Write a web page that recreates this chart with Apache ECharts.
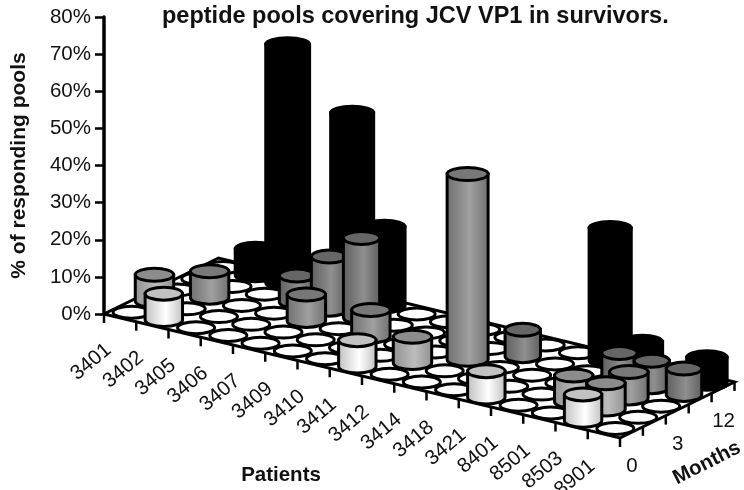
<!DOCTYPE html>
<html>
<head>
<meta charset="utf-8">
<title>Responding pools</title>
<style>
  html, body { margin: 0; padding: 0; background: #fff; }
  #chart { width: 744px; height: 490px; }
</style>
<script src="https://cdn.jsdelivr.net/npm/echarts@6/dist/echarts.min.js"></script>
</head>
<body>
<div id="chart"></div>
<script>
const patients = ["3401", "3402", "3405", "3406", "3407", "3409", "3410", "3411",
  "3412", "3414", "3418", "3421", "8401", "8501", "8503", "8901"];
const monthLabels = ["0", "", "3", "", "12"];
const yTicks = [0, 10, 20, 30, 40, 50, 60, 70, 80];

// % of responding pools per patient, one list per month row (front to back)
const row0 = [0, 7.1, 0, 0, 0, 0, 0, 7.1, 0, 0, 0, 7.1, 0, 0, 7.1, 0];
const row1 = [7.1, 0, 0, 0, 0, 0, 0, 0, 7.1, 0, 0, 0, 0, 7.1, 7.1, 0];
const row2 = [0, 7.1, 0, 0, 7.1, 0, 7.1, 0, 0, 50, 0, 0, 0, 0, 7.1, 0];
const row3 = [0, 0, 0, 7.1, 14.3, 21.4, 0, 0, 0, 0, 7.1, 0, 0, 7.1, 7.1, 7.1];
const row4 = [0, 7.1, 64.3, 0, 50, 21.4, 0, 0, 0, 0, 0, 0, 35.7, 7.1, 0, 7.1];
const rows = [row0, row1, row2, row3, row4];

// oblique projection of the floor, in pixels
const patientDrop = 7.75;
const rowDx = 22.9;
const rowDy = -11.2;

const font = '"Liberation Sans", Arial, sans-serif';
const ink = "#111";
const rowStyles = [
  { rx: 18.5, top: "#c2c2c2", edge: "#bdbdbd", mid: "#ffffff" },
  { rx: 19, top: "#8c8c8c", edge: "#8f8f8f", mid: "#bdbdbd" },
  { rx: 19, top: "#787878", edge: "#6e6e6e", mid: "#a0a0a0" },
  { rx: 17.5, top: "#666666", edge: "#5c5c5c", mid: "#8f8f8f" },
  { rx: 20, top: "#000000", edge: "#000000", mid: "#000000" }
];

// screen position of floor point (u along patients, v along months) raised to value
function project(api, u, v, value) {
  const p = api.coord([u, value]);
  return [p[0] + v * rowDx, p[1] + u * patientDrop + v * rowDy];
}

function renderBar(row) {
  const st = rowStyles[row];
  return function (params, api) {
    const u = api.value(0) + 0.5;
    const v = row + 0.5;
    const value = api.value(1);
    const base = project(api, u, v, 0);
    if (!value) {
      return {
        type: "ellipse",
        shape: { cx: base[0], cy: base[1], rx: 18.5, ry: 6 },
        style: { fill: "#fff", stroke: "#000", lineWidth: 3 }
      };
    }
    const top = project(api, u, v, value);
    const rx = st.rx + value * 0.03;
    const ry = 6.5;
    const x0 = base[0] - rx;
    const x1 = base[0] + rx;
    return {
      type: "group",
      children: [
        {
          type: "path",
          shape: {
            pathData: "M" + x0 + " " + top[1] + "L" + x0 + " " + base[1] +
              "A" + rx + " " + ry + " 0 0 0 " + x1 + " " + base[1] +
              "L" + x1 + " " + top[1] + "Z",
            layout: "none"
          },
          style: {
            fill: new echarts.graphic.LinearGradient(0, 0, 1, 0, [
              { offset: 0, color: st.edge },
              { offset: 0.55, color: st.mid },
              { offset: 1, color: st.edge }
            ]),
            stroke: "#000",
            lineWidth: 3
          }
        },
        {
          type: "ellipse",
          shape: { cx: top[0], cy: top[1], rx: rx, ry: ry },
          style: { fill: st.top, stroke: "#000", lineWidth: 3 }
        }
      ]
    };
  };
}

function renderFloor(params, api) {
  const n = patients.length;
  const m = rows.length;
  return {
    type: "polygon",
    shape: {
      points: [
        project(api, 0, 0, 0),
        project(api, n, 0, 0),
        project(api, n, m, 0),
        project(api, 0, m, 0)
      ]
    },
    style: { fill: "#fff", stroke: "#000", lineWidth: 3 }
  };
}

function renderPatientAxis(params, api) {
  const i = api.value(0);
  const tick = project(api, i, 0, 0);
  const mid = project(api, i + 0.5, 0, 0);
  return {
    type: "group",
    children: [
      {
        type: "line",
        shape: { x1: tick[0], y1: tick[1], x2: tick[0], y2: tick[1] + 9 },
        style: { stroke: "#000", lineWidth: 2.5 }
      },
      {
        type: "text",
        x: mid[0] - 29,
        y: mid[1] + 44,
        rotation: 40 * Math.PI / 180,
        style: {
          text: patients[i],
          font: "20.5px " + font,
          fill: ink,
          align: "center",
          verticalAlign: "middle"
        }
      }
    ]
  };
}

function renderMonthAxis(params, api) {
  const j = api.value(0);
  const tick = project(api, patients.length, j, 0);
  const mid = project(api, patients.length, j + 0.5, 0);
  const children = [{
    type: "line",
    shape: { x1: tick[0], y1: tick[1], x2: tick[0], y2: tick[1] + 9 },
    style: { stroke: "#000", lineWidth: 2.5 }
  }];
  if (monthLabels[j]) {
    children.push({
      type: "text",
      x: mid[0] + 0.5,
      y: mid[1] + 34,
      style: {
        text: monthLabels[j],
        font: "20.5px " + font,
        fill: ink,
        align: "center",
        verticalAlign: "middle"
      }
    });
  }
  return { type: "group", children: children };
}

const chart = echarts.init(document.getElementById("chart"), null, { renderer: "canvas" });

const barSeries = [];
for (let j = rows.length - 1; j >= 0; j--) {
  barSeries.push({
    name: "row" + j,
    type: "custom",
    coordinateSystem: "cartesian2d",
    clip: false,
    silent: true,
    renderItem: renderBar(j),
    encode: { x: 0, y: 1 },
    data: rows[j].map(function (v, i) { return [i, v]; })
  });
}

chart.setOption({
  animation: false,
  backgroundColor: "#fff",
  title: {
    text: "peptide pools covering JCV VP1 in survivors.",
    left: 157,
    top: 0,
    textStyle: { fontFamily: font, fontSize: 23.5, fontWeight: "bold", color: ink }
  },
  grid: { left: 104, right: 124, top: 17, bottom: 176, containLabel: false, outerBoundsMode: "none" },
  xAxis: { type: "value", min: 0, max: patients.length, show: false },
  yAxis: {
    type: "value",
    min: yTicks[0],
    max: yTicks[yTicks.length - 1],
    interval: 10,
    name: "% of responding pools",
    nameLocation: "middle",
    nameRotate: 90,
    nameGap: 74,
    nameTextStyle: { fontFamily: font, fontSize: 21, fontWeight: "bold", color: ink },
    axisLine: { show: true, lineStyle: { color: "#000", width: 3.5 } },
    axisTick: { show: true, length: 9, lineStyle: { color: "#000", width: 2.5 } },
    axisLabel: { formatter: "{value}%", fontFamily: font, fontSize: 20.5, color: ink, margin: 13 },
    splitLine: { show: false }
  },
  graphic: [
    {
      type: "text",
      x: 281,
      y: 475,
      style: { text: "Patients", font: "bold 20.5px " + font, fill: ink, align: "center", verticalAlign: "middle" }
    },
    {
      type: "text",
      x: 707,
      y: 463,
      rotation: 27 * Math.PI / 180,
      style: { text: "Months", font: "bold 20.5px " + font, fill: ink, align: "center", verticalAlign: "middle" }
    }
  ],
  series: [
    {
      type: "custom",
      coordinateSystem: "cartesian2d",
      clip: false,
      silent: true,
      renderItem: renderFloor,
      data: [[0, 0]]
    },
    {
      type: "custom",
      coordinateSystem: "cartesian2d",
      clip: false,
      silent: true,
      renderItem: renderPatientAxis,
      data: patients.map(function (p, i) { return [i, 0]; })
    },
    {
      type: "custom",
      coordinateSystem: "cartesian2d",
      clip: false,
      silent: true,
      renderItem: renderMonthAxis,
      data: rows.concat([[]]).map(function (r, j) { return [j, 0]; })
    }
  ].concat(barSeries)
});
</script>
</body>
</html>
